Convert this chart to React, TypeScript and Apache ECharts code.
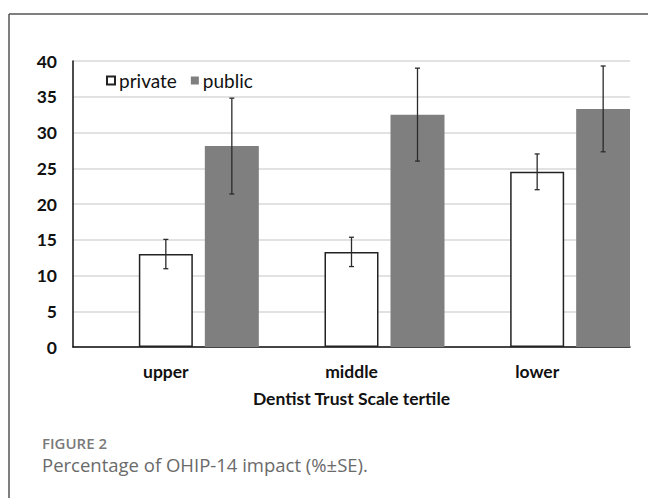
import React, { useEffect, useRef } from "react";
import * as echarts from "echarts";

const categories = ["upper", "middle", "lower"];
const privateValues = [13.0, 13.3, 24.5];
const privateSE = [2.05, 2.05, 2.5];
const publicValues = [28.1, 32.5, 33.3];
const publicSE = [6.7, 6.5, 6.0];
const yTicks = { min: 0, max: 40, interval: 5 };

const BAR_W = 54;
const BAR_GAP = 12;
const FONT = "Lato, 'Open Sans', sans-serif";

export default function App() {
  const ref = useRef<HTMLDivElement>(null);
  useEffect(() => {
    const chart = echarts.init(ref.current!, null, { renderer: "svg" });
    const errData = (vals: number[], se: number[]) =>
      vals.map((v, i) => [i, v - se[i], v + se[i]]);
    const errSeries = (name: string, vals: number[], se: number[], offset: number) => ({
      type: "custom",
      name: name + "-err",
      data: errData(vals, se),
      encode: { x: 0, y: [1, 2] },
      z: 10,
      silent: true,
      renderItem: (params: any, api: any) => {
        const lo = api.coord([api.value(0), api.value(1)]);
        const hi = api.coord([api.value(0), api.value(2)]);
        const x = lo[0] + offset;
        const cap = 2.5;
        const style = { stroke: "#2b2b2b", lineWidth: 1.3 };
        return {
          type: "group",
          children: [
            { type: "line", shape: { x1: x, y1: lo[1], x2: x, y2: hi[1] }, style },
            { type: "line", shape: { x1: x - cap, y1: lo[1], x2: x + cap, y2: lo[1] }, style },
            { type: "line", shape: { x1: x - cap, y1: hi[1], x2: x + cap, y2: hi[1] }, style },
          ],
        };
      },
    });
    chart.setOption({
      animation: false,
      backgroundColor: "#ffffff",
      grid: { left: 73, right: 18, top: 61, bottom: 151 },
      legend: {
        data: ["private", "public"],
        left: 101,
        top: 66,
        icon: "rect",
        itemWidth: 8,
        itemHeight: 8,
        itemGap: 14,
        textStyle: { fontFamily: FONT, fontSize: 19, color: "#111", padding: [0, 0, 0, -1] },
      },
      xAxis: {
        type: "category",
        data: categories,
        axisLine: { lineStyle: { color: "#111", width: 1.5 } },
        axisTick: { show: false },
        axisLabel: { fontFamily: FONT, fontWeight: "bold", fontSize: 17.5, color: "#111", margin: 15 },
        name: "Dentist Trust Scale tertile",
        nameLocation: "middle",
        nameGap: 42,
        nameTextStyle: { fontFamily: FONT, fontWeight: "bold", fontSize: 17.5, color: "#111" },
      },
      yAxis: {
        type: "value",
        min: yTicks.min,
        max: yTicks.max,
        interval: yTicks.interval,
        axisLine: { show: true, lineStyle: { color: "#111", width: 1.5 } },
        axisTick: { show: false },
        axisLabel: { fontFamily: FONT, fontWeight: "bold", fontSize: 17.5, color: "#111", margin: 16 },
        splitLine: { lineStyle: { color: "#d9d9d9", width: 1.5 } },
      },
      series: [
        {
          type: "bar",
          name: "spacer",
          data: categories.map(() => "-"),
          barWidth: BAR_W,
          barGap: (BAR_GAP / BAR_W) * 100 + "%",
          itemStyle: { color: "transparent" },
          silent: true,
        },
        {
          type: "bar",
          name: "private",
          data: privateValues,
          barWidth: BAR_W,
          barGap: (BAR_GAP / BAR_W) * 100 + "%",
          itemStyle: { color: "#ffffff", borderColor: "#222", borderWidth: 1.5 },
        },
        {
          type: "bar",
          name: "public",
          data: publicValues,
          barWidth: BAR_W,
          barGap: (BAR_GAP / BAR_W) * 100 + "%",
          itemStyle: { color: "#7f7f7f" },
        },
        errSeries("private", privateValues, privateSE, 0),
        errSeries("public", publicValues, publicSE, BAR_W + BAR_GAP),
      ],
      graphic: [
        { type: "line", shape: { x1: 9, y1: 14, x2: 648, y2: 14 }, style: { stroke: "#555", lineWidth: 1.5 } },
        { type: "line", shape: { x1: 9, y1: 14, x2: 9, y2: 498 }, style: { stroke: "#555", lineWidth: 1.5 } },
        {
          type: "text",
          left: 42,
          top: 435,
          style: { text: "FIGURE 2", font: "600 15px 'Open Sans', sans-serif", fill: "#7a7a7a" },
        },
        {
          type: "text",
          left: 42,
          top: 455,
          style: { text: "Percentage of OHIP-14 impact (%±SE).", font: "18.5px 'Open Sans', sans-serif", fill: "#6a6a6a" },
        },
      ],
    });
    return () => chart.dispose();
  }, []);
  return (
    <div
      ref={ref}
      style={{ position: "fixed", left: 0, top: 0, width: 648, height: 498, background: "#fff" }}
    />
  );
}
